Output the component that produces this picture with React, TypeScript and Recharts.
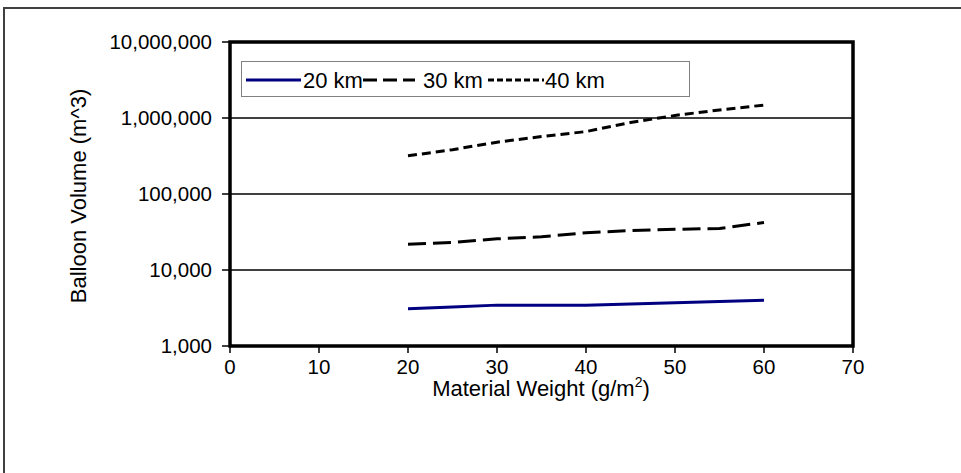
import React from 'react';
import { LineChart, Line, XAxis, YAxis, CartesianGrid, ReferenceArea, Label } from 'recharts';

const weights = [20, 25, 30, 35, 40, 45, 50, 55, 60];
const vol20km = [3100, 3270, 3450, 3450, 3450, 3570, 3700, 3850, 4000];
const vol30km = [21800, 23000, 25700, 27300, 31000, 33000, 34300, 35200, 42200];
const vol40km = [318000, 383000, 481000, 569000, 663000, 871000, 1080000, 1277000, 1480000];
const seriesNames = ['20 km', '30 km', '40 km'];
const xTicks = [0, 10, 20, 30, 40, 50, 60, 70];
const yTicks = [1000, 10000, 100000, 1000000, 10000000];

const data = weights.map((w, i) => ({ w, a: vol20km[i], b: vol30km[i], c: vol40km[i] }));

const FONT = '"Liberation Sans", Arial, sans-serif';

function LegendBox() {
  return (
    <div style={{ position: 'absolute', left: 241, top: 61, width: 447, height: 34, border: '1px solid #808080', background: '#fff' }}>
      <svg width={447} height={34} style={{ display: 'block' }}>
        <line x1={4} x2={59} y1={18} y2={18} stroke="#000080" strokeWidth={3} />
        <text x={61} y={18} dominantBaseline="central" fontFamily={FONT} fontSize={22} fill="#000">{seriesNames[0]}</text>
        <line x1={121} x2={173} y1={18} y2={18} stroke="#000" strokeWidth={3} strokeDasharray="14 6" />
        <text x={181} y={18} dominantBaseline="central" fontFamily={FONT} fontSize={22} fill="#000">{seriesNames[1]}</text>
        <line x1={246} x2={302} y1={18} y2={18} stroke="#000" strokeWidth={3} strokeDasharray="6 3" />
        <text x={303} y={18} dominantBaseline="central" fontFamily={FONT} fontSize={22} fill="#000">{seriesNames[2]}</text>
      </svg>
    </div>
  );
}

export default function App() {
  const tickStyle = { fill: '#000', fontSize: 20.5, fontFamily: FONT };
  return (
    <div style={{ position: 'absolute', left: 0, top: 0, width: 961, height: 473, overflow: 'hidden', background: '#fff' }}>
      <div style={{ position: 'absolute', left: 3, top: 7, width: 1100, height: 1100, borderTop: '2px solid #404040', borderLeft: '2px solid #404040' }} />
      <div style={{ position: 'absolute', left: 0, top: 0 }}>
        <LineChart width={961} height={473} data={data} margin={{ top: 42, right: 108, bottom: 0, left: 0 }}>
          <CartesianGrid vertical={false} stroke="#000" strokeWidth={1.5} />
          <XAxis
            dataKey="w"
            type="number"
            domain={[0, 70]}
            ticks={xTicks}
            height={127}
            tick={tickStyle}
            tickLine={{ stroke: '#000', strokeWidth: 1.5 }}
            tickSize={7}
            tickMargin={6}
            axisLine={false}
          >
            <Label
              content={() => (
                <text x={541} y={396} textAnchor="middle" fontFamily={FONT} fontSize={22} fill="#000">
                  Material Weight (g/m
                  <tspan fontSize={14} dy={-9}>2</tspan>
                  <tspan dy={9}>)</tspan>
                </text>
              )}
            />
          </XAxis>
          <YAxis
            scale="log"
            domain={[1000, 10000000]}
            ticks={yTicks}
            width={230}
            tick={tickStyle}
            tickLine={{ stroke: '#000', strokeWidth: 1.5 }}
            tickSize={8}
            tickMargin={10}
            axisLine={false}
            allowDataOverflow
            tickFormatter={(v: number) => v.toLocaleString('en-US')}
          >
            <Label
              content={() => (
                <text x={86} y={196} textAnchor="middle" transform="rotate(-90 86 196)" fontFamily={FONT} fontSize={22} fill="#000">
                  Balloon Volume (m^3)
                </text>
              )}
            />
          </YAxis>
          <ReferenceArea x1={0} x2={70} y1={1000} y2={10000000} fill="none" stroke="#000" strokeWidth={3.5} ifOverflow="visible" />
          <Line dataKey="a" name={seriesNames[0]} stroke="#000080" strokeWidth={3} dot={false} isAnimationActive={false} type="linear" />
          <Line dataKey="b" name={seriesNames[1]} stroke="#000" strokeWidth={3} strokeDasharray="18 7" dot={false} isAnimationActive={false} type="linear" />
          <Line dataKey="c" name={seriesNames[2]} stroke="#000" strokeWidth={3} strokeDasharray="9 5" dot={false} isAnimationActive={false} type="linear" />
        </LineChart>
      </div>
      <LegendBox />
    </div>
  );
}
